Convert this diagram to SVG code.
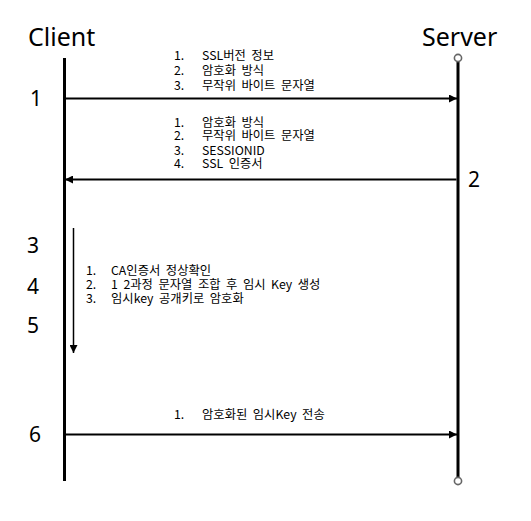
<svg xmlns="http://www.w3.org/2000/svg" width="531" height="521" viewBox="0 0 531 521">
<style>
.title{font-family:"Noto Sans","Open Sans",sans-serif;font-size:25px;fill:#000}
.num{font-family:"Noto Sans","Open Sans",sans-serif;font-size:21px;fill:#000}
.item{font-family:"Noto Sans CJK KR","Noto Sans",sans-serif;font-size:12.3px;word-spacing:2.8px;fill:#000}
.life{stroke:#000;stroke-width:3;fill:none}
.msg{stroke:#000;stroke-width:2;fill:none}
.end{stroke:#666;stroke-width:1.6;fill:#fff}
</style>
<defs>
<marker id="ah" viewBox="0 0 8 8" refX="8" refY="4" markerWidth="8" markerHeight="8" markerUnits="userSpaceOnUse" orient="auto">
<path d="M0,0 L8,4 L0,8 Z" fill="#000"/>
</marker>
</defs>
<rect width="531" height="521" fill="#fff"/>
<g id="client">
<text class="title" x="28" y="45.5">Client</text>
<line class="life" x1="64.5" y1="58" x2="64.5" y2="481"/>
</g>
<g id="server">
<text class="title" x="422" y="45.5">Server</text>
<line class="life" x1="458" y1="62" x2="458" y2="477"/>
<circle class="end" cx="458" cy="58" r="3.6"/>
<circle class="end" cx="458" cy="481" r="3.6"/>
</g>
<g id="steps">
<text class="num" x="30" y="106">1</text>
<text class="num" x="468" y="187">2</text>
<text class="num" x="27" y="253">3</text>
<text class="num" x="27" y="294">4</text>
<text class="num" x="27" y="332.5">5</text>
<text class="num" x="29" y="442">6</text>
</g>
<g id="connectors">
<line class="msg" x1="66" y1="98.5" x2="457" y2="98.5" marker-end="url(#ah)"/>
<line class="msg" x1="456.5" y1="179.5" x2="65" y2="179.5" marker-end="url(#ah)"/>
<line x1="73.5" y1="228" x2="73.5" y2="353" stroke="#000" stroke-width="1.5" marker-end="url(#ah)"/>
<line class="msg" x1="66" y1="434.5" x2="457" y2="434.5" marker-end="url(#ah)"/>
</g>
<g id="label1">
<text class="item" x="174" y="59.5">1.</text><text class="item" x="202" y="59.5">SSL버전 정보</text>
<text class="item" x="174" y="74.5">2.</text><text class="item" x="202" y="74.5">암호화 방식</text>
<text class="item" x="174" y="89.5">3.</text><text class="item" x="202" y="89.5">무작위 바이트 문자열</text>
</g>
<g id="label2">
<text class="item" x="174" y="126.5">1.</text><text class="item" x="202" y="126.5">암호화 방식</text>
<text class="item" x="174" y="139.5">2.</text><text class="item" x="202" y="139.5">무작위 바이트 문자열</text>
<text class="item" x="174" y="154.5">3.</text><text class="item" x="202" y="154.5">SESSIONID</text>
<text class="item" x="174" y="167.5">4.</text><text class="item" x="202" y="167.5">SSL 인증서</text>
</g>
<g id="label3">
<text class="item" x="86" y="274.5">1.</text><text class="item" x="111" y="274.5">CA인증서 정상확인</text>
<text class="item" x="86" y="288.5">2.</text><text class="item" x="111" y="288.5">1 2과정 문자열 조합 후 임시 Key 생성</text>
<text class="item" x="86" y="302.5">3.</text><text class="item" x="111" y="302.5">임시key 공개키로 암호화</text>
</g>
<g id="label6">
<text class="item" x="174" y="418.5">1.</text><text class="item" x="202" y="418.5">암호화된 임시Key 전송</text>
</g>
</svg>
